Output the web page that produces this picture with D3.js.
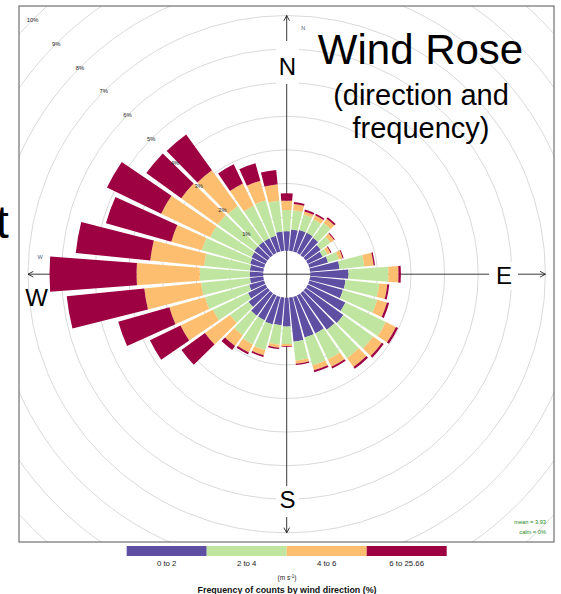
<!DOCTYPE html>
<html>
<head>
<meta charset="utf-8">
<script src="https://cdn.jsdelivr.net/npm/d3@7"></script>
<style>
  html, body { margin: 0; padding: 0; background: #fff; }
  svg { display: block; font-family: "Liberation Sans", Arial, sans-serif; }
</style>
</head>
<body>
<svg id="chart" width="561" height="594"></svg>
<script>
// Wind directions (degrees from north), one bar every 10 degrees
const directions = d3.range(0, 360, 10);

// Speed bins (m/s) and their colours
const speedBins = ["0 to 2", "2 to 4", "4 to 6", "6 to 25.66"];
const binColours = ["#5E4FA2", "#BFE5A0", "#FDBF6F", "#9E0142"];

// Frequency of counts (%) per direction, one array per speed bin
const freq0to2 = [0.58,0.64,0.67,0.67,0.64,0.55,0.49,0.58,0.88,1.14,1.06,1.04,1.24,1.38,1.34,1.26,1.26,1.32,
                  0.86,0.83,0.85,0.82,0.82,0.70,0.58,0.46,0.40,0.40,0.40,0.43,0.46,0.49,0.49,0.49,0.49,0.58];
const freq2to4 = [0.63,0.57,0.48,0.45,0.54,0.36,0.16,0.33,0.74,1.19,1.01,1.06,1.34,1.09,1.04,0.86,0.86,0.57,
                  0.52,0.58,0.80,0.80,0.72,0.68,1.16,1.37,1.46,1.49,1.37,1.49,1.37,1.34,1.31,1.07,1.10,0.92];
const freq4to6 = [0.28,0.19,0.09,0.13,0.15,0.13,0.10,0.12,0.28,0.30,0.24,0.30,0.33,0.32,0.32,0.24,0.15,0.09,
                  0.06,0.09,0.16,0.27,0.39,0.92,1.07,1.10,1.70,1.88,1.61,0.95,1.62,1.34,1.31,0.74,0.60,0.49];
const freq6plus = [0.22,0.06,0.06,0.05,0.06,0.03,0.03,0.03,0.04,0.07,0.06,0.07,0.07,0.07,0.07,0.06,0.06,0.04,
                   0.02,0.04,0.05,0.06,0.15,0.86,1.01,1.58,2.32,2.59,2.23,2.02,1.79,1.28,1.31,0.63,0.54,0.43];

// Frequency rings (%) and their labels
const ringTicks = d3.range(1, 11);
const ringLabels = ringTicks.map(d => d + "%");

// Summary statistics
const meanSpeed = 3.93;
const calmPct = 0;

// ---------------------------------------------------------------
const svg = d3.select("#chart");
const panel = { x0: 19, y0: 6, x1: 554, y1: 542 };
const cx = 286.7, cy = 274.2;

// radial scale: 0 % sits on the inner offset circle
const r = d3.scaleLinear().domain([0, 10]).range([23.5, 359.5]);
const rad = deg => deg * Math.PI / 180;

svg.append("defs").append("clipPath").attr("id", "panelClip")
  .append("rect")
  .attr("x", panel.x0).attr("y", panel.y0)
  .attr("width", panel.x1 - panel.x0).attr("height", panel.y1 - panel.y0);

const plot = svg.append("g").attr("clip-path", "url(#panelClip)");
const g = plot.append("g").attr("transform", `translate(${cx},${cy})`);

// grey frequency rings
g.selectAll("circle.ring").data(d3.range(1, 12)).join("circle")
  .attr("class", "ring")
  .attr("r", d => r(d))
  .attr("fill", "none")
  .attr("stroke", "#dadada")
  .attr("stroke-width", 1);

// compass axes with arrow heads at both ends
const axisLen = r(7);
const arrowHead = (x, y, ang) => {
  const L = 6, a = rad(28);
  const p1 = [x - L * Math.cos(ang - a), y - L * Math.sin(ang - a)];
  const p2 = [x - L * Math.cos(ang + a), y - L * Math.sin(ang + a)];
  return `M${p1}L${x},${y}L${p2}`;
};
const axes = g.append("g").attr("stroke", "#222").attr("stroke-width", 0.9).attr("fill", "none");
axes.append("line").attr("x1", -axisLen).attr("x2", axisLen).attr("y1", 0).attr("y2", 0);
axes.append("line").attr("y1", -axisLen).attr("y2", axisLen).attr("x1", 0).attr("x2", 0);
axes.append("path").attr("d", arrowHead(axisLen, 0, 0));
axes.append("path").attr("d", arrowHead(-axisLen, 0, Math.PI));
axes.append("path").attr("d", arrowHead(0, axisLen, Math.PI / 2));
axes.append("path").attr("d", arrowHead(0, -axisLen, -Math.PI / 2));

// stacked bars
const rows = directions.map((dir, i) => ({
  dir, b0: freq0to2[i], b1: freq2to4[i], b2: freq4to6[i], b3: freq6plus[i]
}));
const stack = d3.stack().keys(["b0", "b1", "b2", "b3"]);
const series = stack(rows);
const halfWidth = 4.25;
const arc = d3.arc()
  .innerRadius(d => r(d[0]))
  .outerRadius(d => r(d[1]))
  .startAngle(d => rad(d.data.dir - halfWidth))
  .endAngle(d => rad(d.data.dir + halfWidth));

g.selectAll("g.bin").data(series).join("g")
  .attr("class", "bin")
  .attr("fill", (d, i) => binColours[i])
  .selectAll("path").data(d => d).join("path")
  .attr("d", arc);

// ring labels along the north-west diagonal
g.selectAll("text.ringlab").data(ringTicks).join("text")
  .attr("class", "ringlab")
  .attr("x", d => -r(d) * Math.sin(rad(45)))
  .attr("y", d => -r(d) * Math.cos(rad(45)))
  .attr("dy", "0.35em")
  .attr("text-anchor", "middle")
  .attr("font-size", 5.8)
  .attr("fill", "#222")
  .text((d, i) => ringLabels[i]);

// small compass letters
const smallDirs = [
  { lab: "N", x: 16.6, y: -246 },
  { lab: "W", x: -246.7, y: -17 }
];
g.selectAll("text.dirlab").data(smallDirs).join("text")
  .attr("class", "dirlab")
  .attr("x", d => d.x).attr("y", d => d.y)
  .attr("dy", "0.35em")
  .attr("text-anchor", "middle")
  .attr("font-size", 5.5)
  .attr("fill", "#4a5a78")
  .text(d => d.lab);

// mean / calm statistics
const stats = svg.append("g").attr("font-size", 5.7).attr("fill", "#228B22").attr("text-anchor", "end");
stats.append("text").attr("x", 546).attr("y", 524).text(`mean = ${meanSpeed}`);
stats.append("text").attr("x", 546).attr("y", 533.5).text(`calm = ${calmPct}%`);

// panel border
svg.append("rect")
  .attr("x", panel.x0).attr("y", panel.y0)
  .attr("width", panel.x1 - panel.x0).attr("height", panel.y1 - panel.y0)
  .attr("fill", "none").attr("stroke", "#555").attr("stroke-width", 1);

// colour key
const keyX = d3.scaleBand().domain(speedBins).range([126.7, 446.7]);
const key = svg.append("g");
key.selectAll("rect").data(speedBins).join("rect")
  .attr("x", d => keyX(d)).attr("y", 546)
  .attr("width", keyX.bandwidth()).attr("height", 10)
  .attr("fill", (d, i) => binColours[i]);
key.selectAll("text").data(speedBins).join("text")
  .attr("x", d => keyX(d) + keyX.bandwidth() / 2).attr("y", 566)
  .attr("text-anchor", "middle").attr("font-size", 7.8).attr("fill", "#222")
  .text(d => d);
const units = svg.append("text").attr("x", 287).attr("y", 580)
  .attr("text-anchor", "middle").attr("font-size", 6.5).attr("fill", "#222");
units.append("tspan").text("(m s");
units.append("tspan").attr("dy", -2.5).attr("font-size", 4.5).text("-1");
units.append("tspan").attr("dy", 2.5).text(")");
svg.append("text").attr("x", 287).attr("y", 593)
  .attr("text-anchor", "middle").attr("font-size", 8.9).attr("font-weight", "bold").attr("fill", "#111")
  .text("Frequency of counts by wind direction (%)");

// large compass labels on white boxes
const bigDirs = [
  { lab: "N", x: 287.5, y: 75, box: [276, 41, 23, 43] },
  { lab: "E", x: 504, y: 284, box: [489, 262, 29, 28] },
  { lab: "S", x: 287.5, y: 508, box: [276, 486, 23, 31] },
  { lab: "W", x: 36.5, y: 306, box: null }
];
const big = svg.append("g");
bigDirs.filter(d => d.box).forEach(d => {
  big.append("rect").attr("x", d.box[0]).attr("y", d.box[1])
    .attr("width", d.box[2]).attr("height", d.box[3]).attr("fill", "#fff");
});
big.selectAll("text").data(bigDirs).join("text")
  .attr("x", d => d.x).attr("y", d => d.y)
  .attr("text-anchor", "middle").attr("font-size", 24).attr("fill", "#000")
  .text(d => d.lab);

// slide title
const title = svg.append("g").attr("text-anchor", "middle").attr("fill", "#000");
title.append("text").attr("x", 420.5).attr("y", 64).attr("font-size", 42).text("Wind Rose");
title.append("text").attr("x", 421).attr("y", 105).attr("font-size", 29).text("(direction and");
title.append("text").attr("x", 421).attr("y", 138).attr("font-size", 29).text("frequency)");

// edge of neighbouring slide text
svg.append("text").attr("x", -4).attr("y", 238).attr("font-size", 46).attr("fill", "#000").text("t");
</script>
</body>
</html>
